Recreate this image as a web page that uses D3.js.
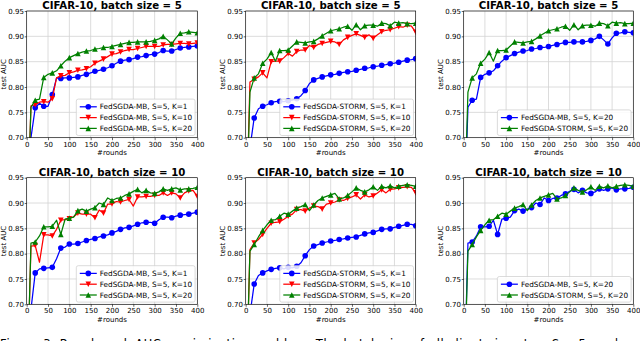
<!DOCTYPE html>
<html>
<head>
<meta charset="utf-8">
<script src="https://cdn.jsdelivr.net/npm/d3@7/dist/d3.min.js"></script>
<style>
    body { margin: 0; background: #fff; }
    svg { display: block; }
    text { font-family: "DejaVu Sans", sans-serif; }
</style>
</head>
<body>
<svg id="chart" width="640" height="341"></svg>
<script>
// rounds (x values); first point is far below the axis and gets clipped
var rounds = [0, 10, 20, 30, 40, 50, 60, 70, 80, 90, 100, 110, 120, 130, 140, 150, 160, 170, 180, 190, 200,
              210, 220, 230, 240, 250, 260, 270, 280, 290, 300, 310, 320, 330, 340, 350, 360, 370, 380, 390, 400];

// batch size = 5
var mbK1_b5  = [0.50, 0.700, 0.759, 0.768, 0.762, 0.762, 0.785, 0.818, 0.817, 0.818, 0.818, 0.819, 0.820, 0.823, 0.825, 0.828, 0.831, 0.833, 0.835, 0.838, 0.842,
                0.847, 0.851, 0.853, 0.854, 0.856, 0.859, 0.860, 0.862, 0.864, 0.865, 0.868, 0.872, 0.871, 0.871, 0.874, 0.877, 0.878, 0.879, 0.880, 0.881];
var mbK10_b5 = [0.50, 0.763, 0.765, 0.770, 0.771, 0.770, 0.777, 0.818, 0.822, 0.823, 0.828, 0.830, 0.833, 0.834, 0.836, 0.840, 0.847, 0.851, 0.855, 0.860, 0.865,
                0.866, 0.869, 0.872, 0.874, 0.874, 0.876, 0.878, 0.880, 0.880, 0.880, 0.880, 0.883, 0.884, 0.884, 0.885, 0.886, 0.886, 0.885, 0.886, 0.887];
var mbK20_b5 = [0.50, 0.760, 0.774, 0.776, 0.819, 0.825, 0.828, 0.832, 0.842, 0.851, 0.858, 0.862, 0.866, 0.869, 0.871, 0.872, 0.875, 0.876, 0.878, 0.878, 0.880,
                0.882, 0.884, 0.886, 0.888, 0.888, 0.889, 0.889, 0.889, 0.890, 0.892, 0.895, 0.900, 0.893, 0.885, 0.897, 0.906, 0.907, 0.909, 0.908, 0.907];
var stK1_b5  = [0.50, 0.680, 0.739, 0.757, 0.762, 0.765, 0.769, 0.771, 0.772, 0.771, 0.773, 0.774, 0.777, 0.783, 0.793, 0.807, 0.814, 0.817, 0.820, 0.822, 0.824,
                0.825, 0.827, 0.829, 0.830, 0.831, 0.833, 0.835, 0.837, 0.838, 0.840, 0.841, 0.843, 0.844, 0.846, 0.847, 0.849, 0.851, 0.853, 0.854, 0.856];
var stK10_b5 = [0.50, 0.810, 0.815, 0.820, 0.828, 0.818, 0.850, 0.851, 0.851, 0.858, 0.866, 0.861, 0.870, 0.873, 0.873, 0.882, 0.878, 0.884, 0.886, 0.888, 0.890,
                0.889, 0.884, 0.893, 0.898, 0.902, 0.905, 0.902, 0.898, 0.903, 0.896, 0.903, 0.909, 0.912, 0.913, 0.916, 0.919, 0.918, 0.922, 0.920, 0.908];
var stK20_b5 = [0.50, 0.790, 0.818, 0.826, 0.847, 0.855, 0.868, 0.851, 0.872, 0.872, 0.873, 0.881, 0.889, 0.888, 0.887, 0.889, 0.890, 0.895, 0.901, 0.906, 0.911,
                0.913, 0.915, 0.918, 0.920, 0.912, 0.923, 0.913, 0.921, 0.922, 0.922, 0.920, 0.926, 0.925, 0.921, 0.928, 0.926, 0.927, 0.925, 0.925, 0.926];

// batch size = 10
var mbK1_b10  = [0.50, 0.690, 0.762, 0.770, 0.771, 0.772, 0.773, 0.790, 0.811, 0.813, 0.819, 0.819, 0.820, 0.823, 0.826, 0.828, 0.830, 0.833, 0.835, 0.837, 0.841,
                 0.844, 0.848, 0.851, 0.852, 0.855, 0.858, 0.861, 0.862, 0.862, 0.860, 0.867, 0.872, 0.872, 0.871, 0.874, 0.876, 0.877, 0.878, 0.880, 0.882];
var mbK10_b10 = [0.50, 0.815, 0.816, 0.783, 0.837, 0.837, 0.835, 0.848, 0.866, 0.867, 0.869, 0.873, 0.880, 0.878, 0.878, 0.878, 0.871, 0.886, 0.880, 0.898, 0.898,
                 0.903, 0.902, 0.905, 0.907, 0.894, 0.912, 0.912, 0.913, 0.913, 0.915, 0.915, 0.920, 0.915, 0.920, 0.918, 0.910, 0.920, 0.924, 0.925, 0.913];
var mbK20_b10 = [0.50, 0.821, 0.823, 0.835, 0.853, 0.853, 0.854, 0.866, 0.838, 0.868, 0.870, 0.872, 0.885, 0.888, 0.884, 0.888, 0.891, 0.900, 0.897, 0.910, 0.905,
                 0.909, 0.910, 0.915, 0.918, 0.923, 0.927, 0.920, 0.925, 0.920, 0.919, 0.922, 0.928, 0.925, 0.928, 0.930, 0.926, 0.928, 0.928, 0.929, 0.931];
var stK1_b10  = [0.50, 0.680, 0.740, 0.757, 0.762, 0.766, 0.769, 0.771, 0.772, 0.770, 0.773, 0.772, 0.775, 0.782, 0.796, 0.808, 0.815, 0.818, 0.821, 0.823, 0.825,
                 0.826, 0.828, 0.829, 0.831, 0.832, 0.833, 0.836, 0.839, 0.841, 0.842, 0.845, 0.848, 0.849, 0.849, 0.852, 0.854, 0.856, 0.858, 0.858, 0.855];
var stK10_b10 = [0.50, 0.808, 0.821, 0.828, 0.838, 0.850, 0.860, 0.862, 0.863, 0.868, 0.874, 0.878, 0.887, 0.887, 0.884, 0.890, 0.894, 0.893, 0.888, 0.898, 0.900,
                 0.902, 0.906, 0.905, 0.909, 0.912, 0.916, 0.908, 0.916, 0.912, 0.914, 0.920, 0.926, 0.920, 0.927, 0.928, 0.930, 0.931, 0.932, 0.931, 0.920];
var stK20_b10 = [0.50, 0.805, 0.818, 0.833, 0.846, 0.857, 0.866, 0.867, 0.874, 0.880, 0.878, 0.884, 0.890, 0.893, 0.897, 0.885, 0.896, 0.905, 0.910, 0.913, 0.916,
                 0.919, 0.908, 0.910, 0.915, 0.922, 0.930, 0.925, 0.922, 0.926, 0.932, 0.925, 0.933, 0.930, 0.934, 0.930, 0.933, 0.935, 0.936, 0.935, 0.933];

var xTicks = [0, 50, 100, 150, 200, 250, 300, 350, 400];
var yTicks = [0.70, 0.75, 0.80, 0.85, 0.90, 0.95];
var titles = ["CIFAR-10, batch size = 5", "CIFAR-10, batch size = 10"];
var caption = "Figure 3: Benchmark AUC maximization problem. The batch size of all clients is set as S = 5, and we"

var BLUE = "#0000ff", RED = "#ff0000", GREEN = "#008000";

function mb(vals, k)  { return {label: "FedSGDA-MB, S=5, K=" + k, values: vals}; }
function st(vals, k)  { return {label: "FedSGDA-STORM, S=5, K=" + k, values: vals}; }

var panels = [
    {row: 0, col: 0, title: titles[0], series: [mb(mbK1_b5, 1), mb(mbK10_b5, 10), mb(mbK20_b5, 20)]},
    {row: 0, col: 1, title: titles[0], series: [st(stK1_b5, 1), st(stK10_b5, 10), st(stK20_b5, 20)]},
    {row: 0, col: 2, title: titles[0], series: [mb(mbK20_b5, 20), st(stK20_b5, 20)]},
    {row: 1, col: 0, title: titles[1], series: [mb(mbK1_b10, 1), mb(mbK10_b10, 10), mb(mbK20_b10, 20)]},
    {row: 1, col: 1, title: titles[1], series: [st(stK1_b10, 1), st(stK10_b10, 10), st(stK20_b10, 20)]},
    {row: 1, col: 2, title: titles[1], series: [mb(mbK20_b10, 20), st(stK20_b10, 20)]}
];

var rowsY = [[11, 137.7], [177.7, 304.3]];
var colsX = [[26.7, 197.3], [245.7, 415.7], [463.7, 633.3]];

var svg = d3.select("#chart");
svg.append("rect").attr("width", 640).attr("height", 341).attr("fill", "#fff");

function markerPath(kind, r) {
    if (kind === "v") return "M0," + r + "L" + (-r) + "," + (-r) + "L" + r + "," + (-r) + "Z";
    if (kind === "^") return "M0," + (-r) + "L" + (-r) + "," + r + "L" + r + "," + r + "Z";
    return d3.symbol().type(d3.symbolCircle).size(Math.PI * r * r)();
}

panels.forEach(function(p, pi) {
    var x0 = colsX[p.col][0], x1 = colsX[p.col][1];
    var y0 = rowsY[p.row][0], y1 = rowsY[p.row][1];

    var x = d3.scaleLinear().domain([0, 400]).range([x0, x1]);
    var y = d3.scaleLinear().domain([0.70, 0.95]).range([y1, y0]);

    var g = svg.append("g");

    // grid
    g.selectAll(".gx").data(xTicks).enter().append("line")
        .attr("x1", function(d) { return x(d); }).attr("x2", function(d) { return x(d); })
        .attr("y1", y0).attr("y2", y1)
        .attr("stroke", "#d3d3d3").attr("stroke-width", 0.8);
    g.selectAll(".gy").data(yTicks).enter().append("line")
        .attr("y1", function(d) { return y(d); }).attr("y2", function(d) { return y(d); })
        .attr("x1", x0).attr("x2", x1)
        .attr("stroke", "#d3d3d3").attr("stroke-width", 0.8);

    var clipId = "clip" + pi;
    svg.append("clipPath").attr("id", clipId).append("rect")
        .attr("x", x0).attr("y", y0).attr("width", x1 - x0).attr("height", y1 - y0);

    var colors = p.series.length === 3 ? [BLUE, RED, GREEN] : [BLUE, GREEN];
    var marks = p.series.length === 3 ? ["o", "v", "^"] : ["o", "^"];

    var plot = g.append("g").attr("clip-path", "url(#" + clipId + ")");
    var line = d3.line()
        .x(function(d, i) { return x(rounds[i]); })
        .y(function(d) { return y(d); });

    p.series.forEach(function(s, si) {
        plot.append("path").datum(s.values)
            .attr("d", line)
            .attr("fill", "none")
            .attr("stroke", colors[si])
            .attr("stroke-width", 1.25)
            .attr("stroke-linejoin", "round");
        plot.selectAll(".m" + si)
            .data(s.values.filter(function(d, i) { return i % 2 === 0; }))
            .enter().append("path")
            .attr("d", markerPath(marks[si], 2.8))
            .attr("transform", function(d, i) { return "translate(" + x(rounds[i * 2]) + "," + y(d) + ")"; })
            .attr("fill", colors[si]);
    });

    // axes
    var xAxis = g.append("g").attr("transform", "translate(0," + y1 + ")")
        .call(d3.axisBottom(x).tickValues(xTicks).tickSize(2.5).tickPadding(1.5).tickFormat(d3.format("d")));
    var yAxis = g.append("g").attr("transform", "translate(" + x0 + ",0)")
        .call(d3.axisLeft(y).tickValues(yTicks).tickSize(2).tickPadding(0.8).tickFormat(d3.format(".2f")));
    [xAxis, yAxis].forEach(function(a) {
        a.select(".domain").remove();
        a.selectAll("line").attr("stroke", "#000").attr("stroke-width", 0.6);
        a.selectAll("text").attr("font-size", 7).attr("fill", "#000")
            .attr("font-family", "DejaVu Sans");
    });

    // frame
    g.append("rect").attr("x", x0).attr("y", y0).attr("width", x1 - x0).attr("height", y1 - y0)
        .attr("fill", "none").attr("stroke", "#000").attr("stroke-width", 0.6);

    // labels
    g.append("text").attr("x", (x0 + x1) / 2).attr("y", y1 + 17.5)
        .attr("text-anchor", "middle").attr("font-size", 7).text("#rounds");
    g.append("text")
        .attr("transform", "translate(" + (x0 - 20.5) + "," + ((y0 + y1) / 2) + ") rotate(-90)")
        .attr("text-anchor", "middle").attr("font-size", 7).text("test AUC");
    g.append("text").attr("x", (x0 + x1) / 2).attr("y", y0 - 2.2)
        .attr("text-anchor", "middle").attr("font-size", 10.2).attr("font-weight", "bold")
        .text(p.title);

    // legend, lower right
    var leg = g.append("g");
    var box = leg.append("rect").attr("rx", 2).attr("ry", 2)
        .attr("fill", "#fff").attr("fill-opacity", 0.85)
        .attr("stroke", "#cccccc").attr("stroke-width", 0.7);
    var rowH = 10.8, n = p.series.length;
    var texts = [];
    p.series.forEach(function(s, si) {
        var t = leg.append("text").attr("font-size", 7.3).attr("dy", "0.35em").text(s.label);
        texts.push(t);
    });
    var maxW = d3.max(texts, function(t) { return t.node().getComputedTextLength(); });
    var bw = 3.5 + 17 + 3 + maxW + 3;
    var bh = n * rowH + 4;
    var bx = x1 - 2.2 - bw, by = y1 - 2.2 - bh;
    box.attr("x", bx).attr("y", by).attr("width", bw).attr("height", bh);
    p.series.forEach(function(s, si) {
        var cy = by + 2 + rowH * (si + 0.5) + 0.3;
        leg.append("line").attr("x1", bx + 3.5).attr("x2", bx + 20.5)
            .attr("y1", cy).attr("y2", cy).attr("stroke", colors[si]).attr("stroke-width", 1.25);
        leg.append("path").attr("d", markerPath(marks[si], 2.8))
            .attr("transform", "translate(" + (bx + 12) + "," + cy + ")").attr("fill", colors[si]);
        texts[si].attr("x", bx + 23.5).attr("y", cy);
    });
});

// figure caption, cut by the bottom edge
svg.append("text").attr("x", 0).attr("y", 348)
    .attr("font-family", "Liberation Serif").attr("font-size", 11.5)
    .attr("textLength", 640).attr("lengthAdjust", "spacing")
    .text(caption);
</script>
</body>
</html>
